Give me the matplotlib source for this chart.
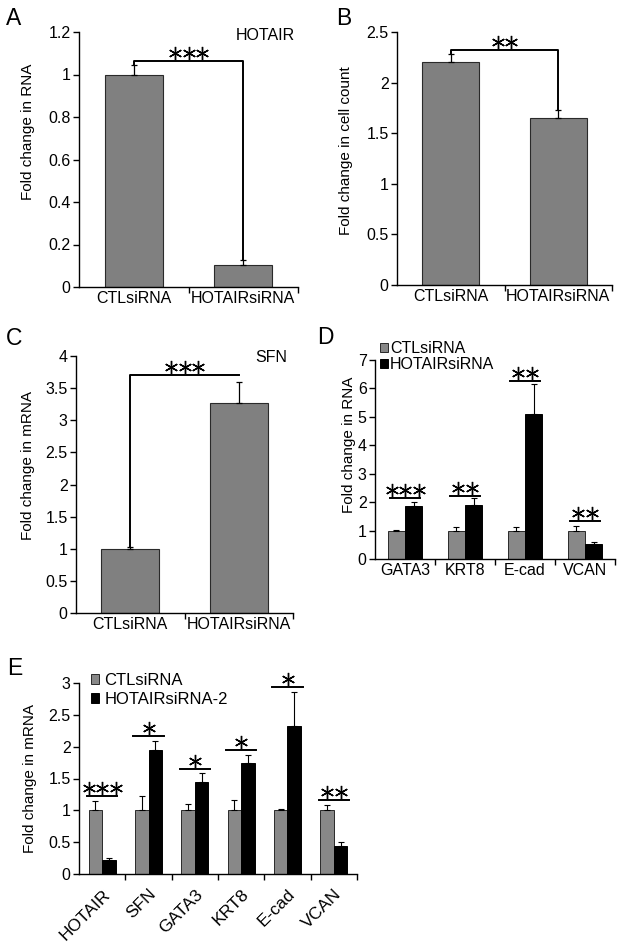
import matplotlib
matplotlib.use('Agg')
import matplotlib.pyplot as plt
from matplotlib.ticker import FixedLocator, FuncFormatter
import matplotlib.transforms as mtransforms
import numpy as np

plt.rcParams['font.family'] = ['Liberation Sans', 'DejaVu Sans']

# ---------------- data ----------------
two_groups = ['CTLsiRNA', 'HOTAIRsiRNA']
a_values = [1.00, 0.105]
a_errors = [0.045, 0.023]
a_sig_y = 1.063

b_values = [2.20, 1.65]
b_errors = [0.08, 0.08]
b_sig_y = 2.32

c_values = [1.00, 3.27]
c_errors = [0.03, 0.32]
c_sig_y = 3.71

d_genes = ['GATA3', 'KRT8', 'E-cad', 'VCAN']
d_ctl = [1.0, 1.0, 1.0, 1.0]
d_ctl_err = [0.03, 0.14, 0.11, 0.16]
d_kd = [1.88, 1.90, 5.10, 0.53]
d_kd_err = [0.14, 0.23, 1.05, 0.06]
d_stars = [3, 2, 2, 2]
d_sig_y = [2.13, 2.22, 6.27, 1.32]

e_genes = ['HOTAIR', 'SFN', 'GATA3', 'KRT8', 'E-cad', 'VCAN']
e_ctl = [1.0, 1.0, 1.0, 1.0, 1.0, 1.0]
e_ctl_err = [0.15, 0.23, 0.10, 0.16, 0.02, 0.09]
e_kd = [0.22, 1.95, 1.45, 1.75, 2.32, 0.44]
e_kd_err = [0.03, 0.14, 0.13, 0.12, 0.54, 0.06]
e_stars = [3, 1, 1, 1, 1, 2]
e_sig_y = [1.22, 2.16, 1.65, 1.94, 2.94, 1.16]

# ---------------- figure ----------------
W, H = 624, 948
DPI = 100
fig = plt.figure(figsize=(W / DPI, H / DPI), dpi=DPI)

GRAY = '#808080'
GRAY2 = '#888888'
EDGE = '#2a2a2a'


def axes_px(x0, x1, ytop, ybot):
    return fig.add_axes([x0 / W, 1 - ybot / H, (x1 - x0) / W, (ybot - ytop) / H])


def style(ax, ymax, ystep, ncat, xlabelsize=11.5):
    ax.set_xlim(-0.5, ncat - 0.5)
    ax.set_ylim(0, ymax)
    for s in ['top', 'right']:
        ax.spines[s].set_visible(False)
    for s in ['left', 'bottom']:
        ax.spines[s].set_linewidth(1.0)
    ax.set_yticks(np.arange(0, ymax + 1e-9, ystep))
    ax.yaxis.set_major_formatter(FuncFormatter(lambda v, p: f'{v:g}'))
    ax.set_xticks(range(ncat))
    ax.xaxis.set_minor_locator(FixedLocator(np.arange(0.5, ncat, 1)))
    ax.tick_params(axis='x', which='major', length=0, labelsize=xlabelsize, pad=3)
    ax.tick_params(axis='x', which='minor', length=4, width=1.0, direction='out')
    ax.tick_params(axis='y', length=4, width=1.0, labelsize=11.5, pad=2)


def stars(ax, x, y, n, spacing=13.5, rise=8, ms=9.5):
    for i in range(n):
        dx = (i - (n - 1) / 2) * spacing
        tr = mtransforms.offset_copy(ax.transData, fig=fig, x=dx, y=rise, units='dots')
        ax.plot([x], [y], marker=(6, 2, 0), ms=ms, mew=1.0, color='k',
                transform=tr, clip_on=False, linestyle='none')


def two_bar_panel(ax, values, errors, ymax, ystep, ylabel, label_xy):
    x = np.arange(len(values))
    ax.bar(x, values, width=0.53, color=GRAY, edgecolor=EDGE, linewidth=0.8, zorder=2)
    ax.errorbar(x, values, yerr=[np.zeros(len(values)), errors], fmt='none',
                ecolor='k', elinewidth=0.9, capsize=2.5, capthick=0.9, zorder=3)
    style(ax, ymax, ystep, len(values))
    ax.set_xticklabels(two_groups)
    ax.set_ylabel(ylabel, fontsize=11)
    ax.yaxis.set_label_coords(*label_xy)


# ---------- A ----------
axA = axes_px(79, 298, 32, 287)
two_bar_panel(axA, a_values, a_errors, 1.2, 0.2, 'Fold change in RNA', (-0.20, 0.61))
topsA = np.array(a_values) + np.array(a_errors)
axA.plot([0, 0, 1, 1], [topsA[0], a_sig_y, a_sig_y, topsA[1]], color='k', lw=1.4, zorder=4)
stars(axA, 0.5, a_sig_y, 3)
fig.text(295 / W, 1 - 36 / H, 'HOTAIR', ha='right', va='center', fontsize=11.5)

# ---------- B ----------
axB = axes_px(397, 612, 32, 285)
two_bar_panel(axB, b_values, b_errors, 2.5, 0.5, 'Fold change in cell count', (-0.205, 0.53))
topsB = np.array(b_values) + np.array(b_errors)
axB.plot([0, 0, 1, 1], [topsB[0], b_sig_y, b_sig_y, topsB[1]], color='k', lw=1.4, zorder=4)
stars(axB, 0.5, b_sig_y, 2)

# ---------- C ----------
axC = axes_px(76, 293, 356, 613)
two_bar_panel(axC, c_values, c_errors, 4, 0.5, 'Fold change in mRNA', (-0.19, 0.575))
topsC = np.array(c_values) + np.array(c_errors)
axC.plot([0, 0, 1], [topsC[0], c_sig_y, c_sig_y], color='k', lw=1.4, zorder=4)
stars(axC, 0.5, c_sig_y, 3)
fig.text(287 / W, 1 - 357 / H, 'SFN', ha='right', va='center', fontsize=11.5)


def grouped_panel(ax, genes, ctl, ctl_err, kd, kd_err, sig_y, nstars,
                  line_half, kd_label, legend_xy, legend_spacing, textpad, legend_fs,
                  ylabel, label_xy):
    x = np.arange(len(genes))
    bw = 0.29
    b1 = ax.bar(x - bw / 2, ctl, width=bw, color=GRAY2, edgecolor=EDGE, linewidth=0.7, zorder=2)
    b2 = ax.bar(x + bw / 2, kd, width=bw, color='black', edgecolor='black', linewidth=0.7, zorder=2)
    ax.errorbar(x - bw / 2, ctl, yerr=[np.zeros(len(x)), ctl_err], fmt='none', ecolor='k',
                elinewidth=0.8, capsize=2, capthick=0.8, zorder=3)
    ax.errorbar(x + bw / 2, kd, yerr=[np.zeros(len(x)), kd_err], fmt='none', ecolor='k',
                elinewidth=0.8, capsize=2, capthick=0.8, zorder=3)
    for xi, yi, n in zip(x, sig_y, nstars):
        ax.plot([xi - line_half, xi + line_half], [yi, yi], color='k', lw=1.4, zorder=4)
        stars(ax, xi, yi, n)
    ax.set_ylabel(ylabel, fontsize=11)
    ax.yaxis.set_label_coords(*label_xy)
    ax.legend([b1, b2], ['CTLsiRNA', kd_label], loc='upper left',
              bbox_to_anchor=(legend_xy[0] / W, 1 - legend_xy[1] / H),
              bbox_transform=fig.transFigure, frameon=False, handlelength=0.5,
              handleheight=0.5, handletextpad=textpad, borderpad=0, borderaxespad=0,
              labelspacing=legend_spacing, fontsize=legend_fs)


# ---------- D ----------
axD = axes_px(375, 615, 360, 559)
style(axD, 7, 1, len(d_genes))
grouped_panel(axD, d_genes, d_ctl, d_ctl_err, d_kd, d_kd_err, d_sig_y, d_stars,
              0.25, 'HOTAIRsiRNA', (380, 341), 0.05, 0.12, 11.5,
              'Fold change in RNA', (-0.08, 0.573))
axD.set_xticklabels(d_genes)

# ---------- E ----------
axE = axes_px(79, 357, 683, 874)
style(axE, 3, 0.5, len(e_genes))
grouped_panel(axE, e_genes, e_ctl, e_ctl_err, e_kd, e_kd_err, e_sig_y, e_stars,
              0.33, 'HOTAIRsiRNA-2', (91, 673), 0.22, 0.3, 12,
              'Fold change in mRNA', (-0.15, 0.50))
axE.set_xticklabels(e_genes, rotation=45, ha='right', va='top', rotation_mode='anchor',
                    fontsize=12.5)
axE.tick_params(axis='x', which='major', pad=9)

# ---------- panel letters ----------
for letter, (px, py) in {'A': (6, 7), 'B': (336, 7), 'C': (6, 327), 'D': (317, 326),
                         'E': (7, 657)}.items():
    fig.text(px / W, 1 - py / H, letter, ha='left', va='top', fontsize=16.5)

fig.savefig('out.png', dpi=DPI)
